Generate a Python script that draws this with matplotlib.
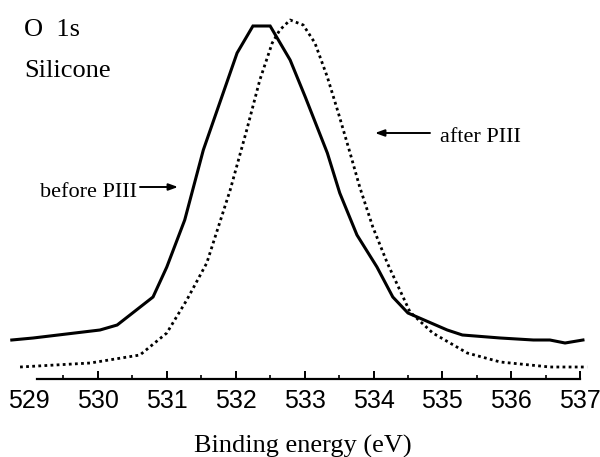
import matplotlib
matplotlib.use("Agg")
import matplotlib.pyplot as plt
from matplotlib.ticker import MultipleLocator

# Binding energy (eV) and intensity (arb. units)
before_energy = [528.75, 529.06, 530.03, 530.28, 530.80, 531.00, 531.26, 531.53,
                 532.02, 532.25, 532.50, 532.79, 533.01, 533.33, 533.51, 533.76,
                 534.05, 534.28, 534.50, 535.07, 535.29, 535.84, 536.32, 536.56,
                 536.78, 537.04]
before_intensity = [39, 41, 49, 54, 82, 112, 159, 229,
                    326, 353, 353, 319, 282, 226, 186, 144,
                    112, 82, 66, 49, 44, 41, 39, 39,
                    36, 39]

after_energy = [528.87, 529.89, 530.61, 531.00, 531.29, 531.58, 531.92, 532.16,
                532.35, 532.53, 532.64, 532.79, 532.98, 533.15, 533.33, 533.49,
                533.66, 533.80, 533.99, 534.20, 534.53, 534.86, 535.36, 535.84,
                536.56, 537.10]
after_intensity = [12, 16, 24, 46, 79, 116, 189, 249,
                   299, 336, 349, 359, 354, 336, 302, 266,
                   226, 192, 152, 116, 67, 46, 26, 17,
                   12, 12]

tick_values = [529, 530, 531, 532, 533, 534, 535, 536, 537]

W, H = 600, 457
fig = plt.figure(figsize=(6, 4.57), dpi=100)

def px_to_e(px):
    return 529 + (px - 29) / 68.9

left_px, right_px = 8, 592
ax = fig.add_axes([left_px / W, (H - 379) / H, (right_px - left_px) / W, (379 - 10) / H])
ax.set_xlim(px_to_e(left_px), px_to_e(right_px))
ax.set_ylim(0, 369)

ax.plot(before_energy, before_intensity, color="black", lw=2.2, solid_joinstyle="miter")
ax.plot(after_energy, after_intensity, color="black", lw=2.0, linestyle=(0, (1, 1.2)))

for s in ["top", "left", "right"]:
    ax.spines[s].set_visible(False)
ax.spines["bottom"].set_linewidth(1.6)
ax.spines["bottom"].set_bounds(px_to_e(37), 537.0)
ax.set_yticks([])
ax.set_xticks(tick_values)
ax.set_xticklabels([str(t) for t in tick_values], fontfamily="Liberation Sans", fontsize=18)
ax.xaxis.set_minor_locator(MultipleLocator(0.5))
ax.tick_params(axis="x", which="major", direction="in", length=6, width=1.4, pad=7)
ax.tick_params(axis="x", which="minor", direction="in", length=3, width=1.2)
ax.xaxis.get_major_ticks()[0].tick1line.set_visible(False)

serif = "Liberation Serif"
def ftext(x, y, s, size, ha="left"):
    fig.text(x / W, 1 - y / H, s, fontsize=size, fontfamily=serif, ha=ha, va="baseline")

ftext(24, 36, "O  1s", 19)
ftext(24, 77, "Silicone", 19)
ftext(40, 197, "before PIII", 16)
ftext(440, 142, "after PIII", 16)
ftext(303, 453, "Binding energy (eV)", 19, ha="center")

arrow_kw = dict(arrowstyle="-|>,head_length=0.55,head_width=0.2", color="black", lw=1.4,
                shrinkA=0, shrinkB=0)
ax.annotate("", xy=(178 / W, 1 - 187 / H), xytext=(140 / W, 1 - 187 / H),
            xycoords="figure fraction", textcoords="figure fraction", arrowprops=arrow_kw)
ax.annotate("", xy=(375 / W, 1 - 133 / H), xytext=(430 / W, 1 - 133 / H),
            xycoords="figure fraction", textcoords="figure fraction", arrowprops=arrow_kw)

fig.savefig("out.png", dpi=100)
